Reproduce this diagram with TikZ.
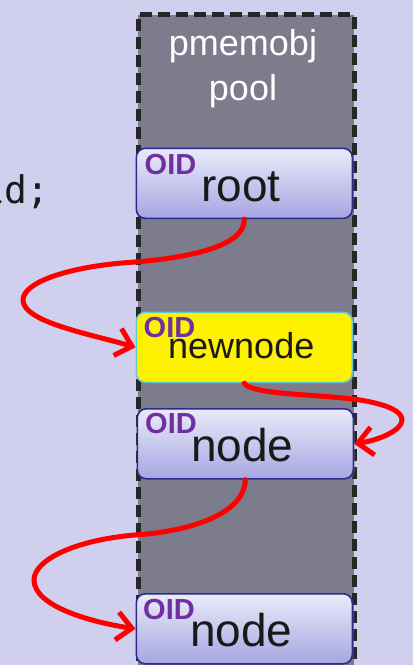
\documentclass[tikz,border=0pt]{standalone}
\usepackage{fontspec}
\setmainfont{Liberation Sans}
\newfontfamily\codefont{DejaVu Sans Mono}
\usetikzlibrary{arrows.meta,shadows}
\definecolor{bg}{RGB}{208,208,238}
\definecolor{poolgray}{RGB}{124,124,140}
\definecolor{boxtop}{RGB}{234,234,250}
\definecolor{boxbot}{RGB}{166,166,226}
\definecolor{boxline}{RGB}{43,43,143}
\definecolor{oidcol}{RGB}{112,48,160}
\definecolor{nnline}{RGB}{100,200,215}
\definecolor{txt}{RGB}{25,25,25}
\tikzset{
  poolbox/.style={draw=black!85, line width=5pt, dash pattern=on 12pt off 6pt,
    fill=poolgray, minimum width=216pt, minimum height=680pt, inner sep=0pt, anchor=north west},
  objbox/.style={rounded corners=9pt, line width=1.6pt, minimum width=216pt, minimum height=70pt,
    inner sep=0pt, anchor=north west, drop shadow={opacity=0.35, shadow xshift=1.5pt, shadow yshift=-2.5pt}},
  plainbox/.style={objbox, draw=boxline, top color=boxtop, bottom color=boxbot},
  newbox/.style={objbox, draw=nnline, fill=yellow},
  oid/.style={inner sep=0pt, anchor=base west, text=oidcol, font=\fontsize{29}{32}\selectfont\bfseries},
  lbl/.style={inner sep=0pt, anchor=base west, text=txt, font=\fontsize{46}{50}\selectfont},
  ptr/.style={draw=red, line width=5pt, line cap=round, -{Straight Barb[length=15pt,width=28pt,line width=5pt]}}
}
\begin{document}
\begin{tikzpicture}[x=1pt,y=-1pt]
\useasboundingbox (0,0) rectangle (413,665);
\fill[bg] (0,0) rectangle (413,665);
\begin{scope}
\clip (0,0) rectangle (413,665);
\node[inner sep=0pt, anchor=base east, text=txt, font=\codefont\fontsize{38}{42}\selectfont] (code) at (50,203) {id;};
\node[poolbox] (pool) at (135.5,12) {};
\node[inner sep=0pt, anchor=base, text=white, font=\fontsize{36}{40}\selectfont] (t1) at (243,55) {pmemobj};
\node[inner sep=0pt, anchor=base, text=white, font=\fontsize{36}{40}\selectfont] (t2) at (243,100) {pool};

\node[plainbox] (root) at (135.5,147.5) {};
\node[oid] (oid1) at (144.5,174) {OID};
\node[lbl] (l1) at (201,201) {root};

\node[newbox] (nn) at (135.5,311.5) {};
\node[oid] (oid2) at (143.5,337) {OID};
\node[lbl, font=\fontsize{36}{40}\selectfont] (l2) at (168,358) {newnode};

\node[plainbox] (n1) at (136.5,408) {};
\node[oid] (oid3) at (145,433) {OID};
\node[lbl] (l3) at (191,461) {node};

\node[plainbox] (n2) at (135.5,593) {};
\node[oid] (oid4) at (143,619) {OID};
\node[lbl] (l4) at (190,646) {node};

\coordinate (a1) at (135,262);
\coordinate (a2) at (23,300);
\draw[ptr] (root.south) .. controls (245,245) and (195,257) .. (a1)
   .. controls (70,266) and (23,282) .. (a2)
   .. controls (23,322) and (90,334) .. (nn.west);

\coordinate (b1) at (402,420);
\draw[ptr] (nn.south) .. controls (250,395) and (320,394) .. (360,400)
   .. controls (390,405) and (402,412) .. (b1)
   .. controls (402,430) and (380,440) .. (n1.east);

\coordinate (c1) at (135,535);
\coordinate (c2) at (34,580);
\draw[ptr] (n1.south) .. controls (245,512) and (195,531) .. (c1)
   .. controls (75,540) and (34,560) .. (c2)
   .. controls (34,606) and (90,622) .. (n2.west);
\end{scope}
\end{tikzpicture}
\end{document}
